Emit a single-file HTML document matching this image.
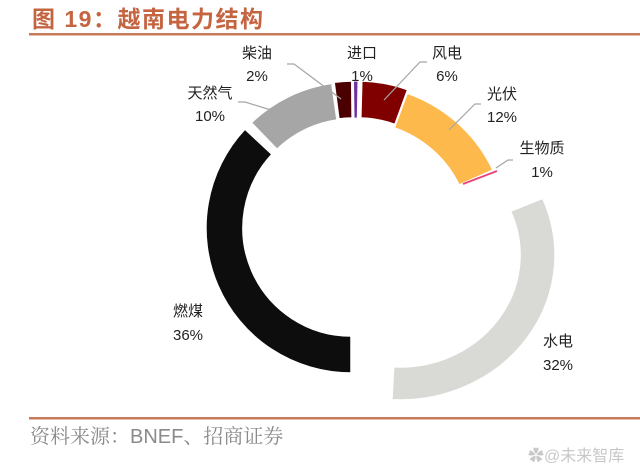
<!DOCTYPE html>
<html><head><meta charset="utf-8"><style>
html,body{margin:0;padding:0;background:#fff;width:640px;height:472px;overflow:hidden}
svg{display:block}
</style></head><body>
<svg width="640" height="472" viewBox="0 0 640 472" xmlns="http://www.w3.org/2000/svg">
<text x="32" y="27" font-family="Liberation Sans, Noto Sans CJK SC, sans-serif" font-weight="bold" font-size="23" fill="#c46440" letter-spacing="1.5">图 19：越南电力结构</text>
<rect x="29" y="33" width="611" height="2.5" fill="#c87a5a"/>
<g stroke="#fff" stroke-width="1.5">
<path d="M351,373 A145,145 0 0 1 244.9,129.1 L272.0,154.3 A108,108 0 0 0 351,336 Z" fill="#0d0d0d"/>
<path d="M251.3,122.7 A145,145 0 0 1 331.8,83.4 L337.0,120.0 A108,108 0 0 0 277.0,149.3 Z" fill="#a6a6a6"/>
<path d="M334.1,82.2 A145,145 0 0 1 351.7,81.0 L352.1,118.0 A108,108 0 0 0 338.9,118.9 Z" fill="#4a0000"/>
<path d="M353.5,81 A145,145 0 0 1 358.0,81.1 L357.3,118.1 A108,108 0 0 0 354.0,118 Z" fill="#7030a0" stroke-width="1"/>
<path d="M361.8,81.0 A145,145 0 0 1 407.6,89.7 L394.9,124.5 A108,108 0 0 0 360.8,118.0 Z" fill="#800000"/>
<path d="M407.2,93.2 A152,145 0 0 1 492.9,170 L459,185 A115,108 0 0 0 394.3,127.8 Z" fill="#fdb94c"/>
<path d="M542.7,198.3 A155,145 0 0 1 391.9,399.8 L393.7,366.8 A120,112 0 0 0 510.5,211.2 Z" fill="#d9d9d6"/>
</g>
<line x1="463" y1="184" x2="497" y2="171" stroke="#e8457a" stroke-width="2"/>
<g stroke="#a6a6a6" stroke-width="1.2" fill="none">
<polyline points="287,64 294,64 341,99"/>
<polyline points="238,102 245,102 271,110"/>
<polyline points="427,62 420,62 384,100"/>
<polyline points="481,104 475,104 449,130"/>
<polyline points="513,160 508,160 496,168"/>
</g>
<g font-family="Liberation Sans, Noto Sans CJK SC, sans-serif" font-size="15" fill="#222" text-anchor="middle">
<text x="257" y="58">柴油</text><text x="257" y="81">2%</text>
<text x="362" y="58">进口</text><text x="362" y="81">1%</text>
<text x="447" y="58">风电</text><text x="447" y="81">6%</text>
<text x="210" y="98">天然气</text><text x="210" y="121">10%</text>
<text x="502" y="99">光伏</text><text x="502" y="122">12%</text>
<text x="542" y="153">生物质</text><text x="542" y="177">1%</text>
<text x="188" y="316">燃煤</text><text x="188" y="340">36%</text>
<text x="558" y="346">水电</text><text x="558" y="370">32%</text>
</g>
<rect x="29" y="417" width="611" height="2.5" fill="#c87a5a"/>
<text x="30" y="443" font-family="Liberation Sans, Noto Serif CJK SC, serif" font-size="20" fill="#8a8a8a">资料来源：BNEF、招商证券</text>
<text x="528" y="461" font-family="Liberation Sans, Noto Sans CJK SC, sans-serif" font-size="16" fill="#c8c8c8">✿@未来智库</text>
</svg>
</body></html>
